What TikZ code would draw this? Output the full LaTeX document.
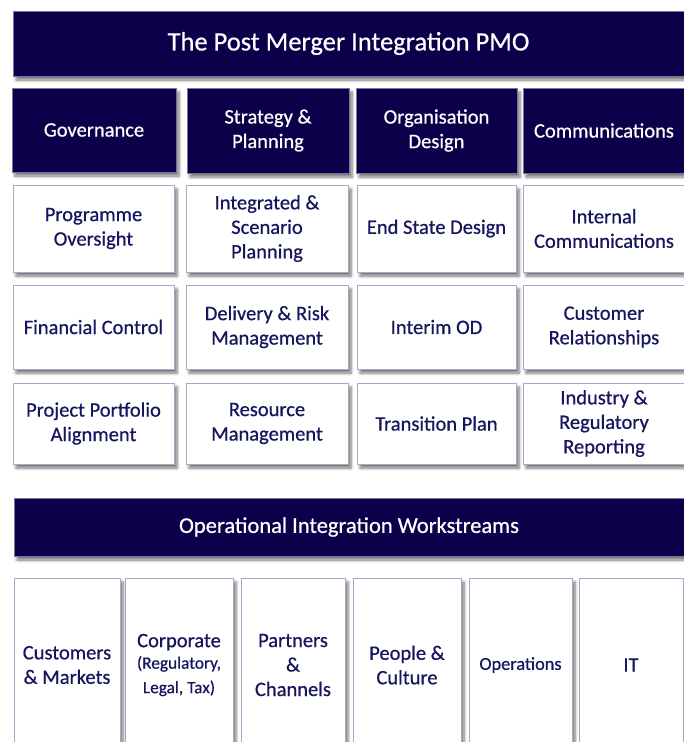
\documentclass[tikz,border=0pt]{standalone}
\usepackage{fontspec}
\setmainfont{Carlito}[FakeBold=0.6]
\usetikzlibrary{shadows.blur}
\definecolor{navy}{HTML}{0B0049}
\definecolor{txtnavy}{HTML}{16165E}
\definecolor{edge}{HTML}{A9A6C9}
\begin{document}
\begin{tikzpicture}[x=1pt,y=-1pt,
  shad/.style={blur shadow={shadow xshift=3pt,shadow yshift=-4pt,shadow blur steps=6,shadow opacity=55,shadow blur radius=3pt}},
  navybox/.style={shad,fill=navy,draw=edge!70!navy,line width=0.6pt,text=white,align=center,inner sep=0pt,font=\fontsize{20.5}{24.5}\selectfont},
  whitebox/.style={shad,fill=white,draw=edge,line width=0.8pt,text=txtnavy,align=center,inner sep=0pt,font=\fontsize{20.5}{24.5}\selectfont}]
\useasboundingbox (0,0) rectangle (684,742);
% title
\node[navybox,minimum width=671pt,minimum height=65pt,font=\fontsize{26.5}{30}\selectfont] (title) at (348.5,43.5) {The Post Merger Integration PMO};
% headers
\node[navybox,minimum width=164pt,minimum height=84pt] (gov) at (94,130) {Governance};
\node[navybox,minimum width=162pt,minimum height=85pt] (strat) at (268,130.5) {Strategy \&\\Planning};
\node[navybox,minimum width=161pt,minimum height=85pt] (org) at (436.5,130.5) {Organisation\\Design};
\node[navybox,minimum width=162pt,minimum height=85pt] (comm) at (604,130.5) {Communications};
% row 1
\node[whitebox,minimum width=161pt,minimum height=87pt] (prog) at (93.5,228.5) {Programme\\Oversight};
\node[whitebox,minimum width=162pt,minimum height=87pt] (integ) at (267,228.5) {Integrated \&\\Scenario\\Planning};
\node[whitebox,minimum width=159pt,minimum height=87pt] (endst) at (436.5,228.5) {End State Design};
\node[whitebox,minimum width=162pt,minimum height=87pt] (intc) at (604,228.5) {Internal\\Communications};
% row 2
\node[whitebox,minimum width=161pt,minimum height=84pt] (fin) at (93.5,327) {Financial Control};
\node[whitebox,minimum width=162pt,minimum height=84pt] (deliv) at (267,327) {Delivery \& Risk\\Management};
\node[whitebox,minimum width=159pt,minimum height=84pt] (interim) at (436.5,327) {Interim OD};
\node[whitebox,minimum width=162pt,minimum height=84pt] (cust) at (604,327) {Customer\\Relationships};
% row 3
\node[whitebox,minimum width=161pt,minimum height=81pt] (proj) at (93.5,423.5) {Project Portfolio\\Alignment};
\node[whitebox,minimum width=162pt,minimum height=81pt] (res) at (267,423.5) {Resource\\Management};
\node[whitebox,minimum width=159pt,minimum height=81pt] (trans) at (436.5,423.5) {Transition Plan};
\node[whitebox,minimum width=162pt,minimum height=81pt] (indus) at (604,423.5) {Industry \&\\Regulatory\\Reporting};
% operational banner
\node[navybox,minimum width=670pt,minimum height=58pt,font=\fontsize{22.5}{27}\selectfont] (ops) at (349,527) {Operational Integration Workstreams};
% workstreams
\node[whitebox,minimum width=106pt,minimum height=174pt] (cm) at (67,665) {Customers\\\& Markets};
\node[whitebox,minimum width=108pt,minimum height=174pt] (corp) at (179,665) {Corporate\\[-3pt]{\fontsize{17.3}{20}\selectfont (Regulatory,}\\{\fontsize{17.3}{20}\selectfont Legal, Tax)}};
\node[whitebox,minimum width=104pt,minimum height=174pt] (part) at (293,665) {Partners\\\&\\Channels};
\node[whitebox,minimum width=108pt,minimum height=174pt] (people) at (407,665) {People \&\\Culture};
\node[whitebox,minimum width=103pt,minimum height=174pt,font=\fontsize{18.3}{22}\selectfont] (oper) at (520.5,665) {Operations};
\node[whitebox,minimum width=104pt,minimum height=174pt] (it) at (631,665) {IT};
\end{tikzpicture}
\end{document}
